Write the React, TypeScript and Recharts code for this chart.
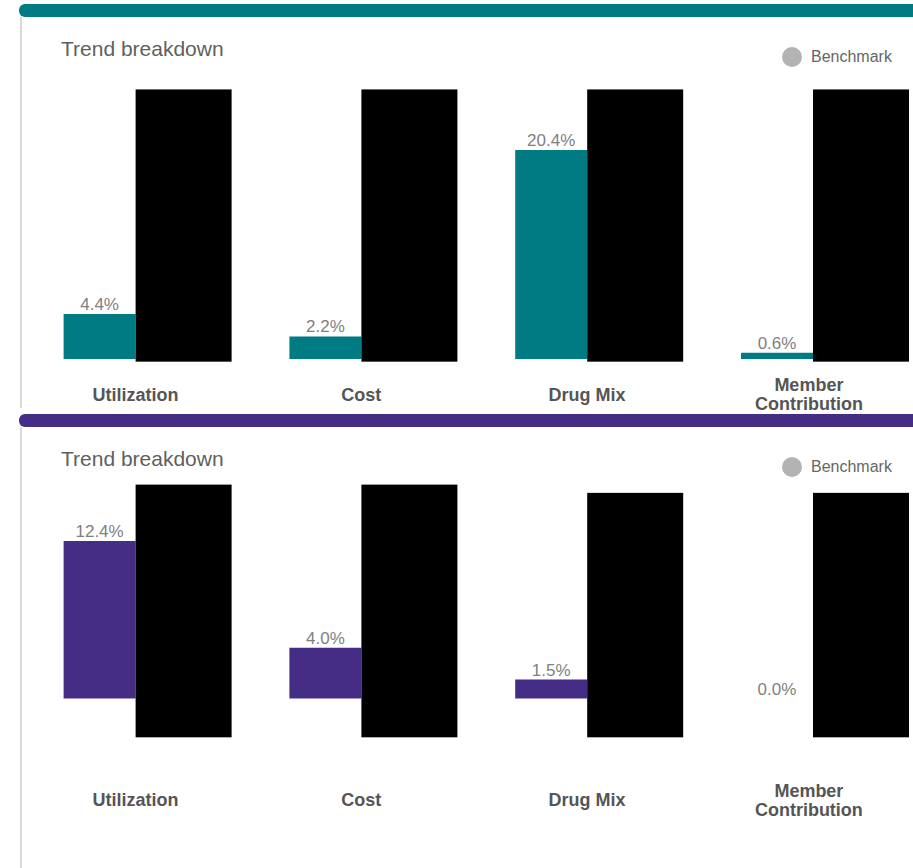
import React from "react";
import { BarChart, Bar, XAxis, YAxis, LabelList } from "recharts";

const categories = ["Utilization", "Cost", "Drug Mix", "Member Contribution"];
const trendTop = [4.4, 2.2, 20.4, 0.6];
const trendBottom = [12.4, 4.0, 1.5, 0.0];
// benchmark bars are blacked out in the source, values are the black blocks [low, high]
const benchTop: [number, number][] = [[-0.26, 26.3], [-0.26, 26.3], [-0.26, 26.3], [-0.26, 26.3]];
const benchBottom: [number, number][] = [[-3.05, 16.85], [-3.05, 16.85], [-3.05, 16.2], [-3.05, 16.2]];

const FONT = '"Liberation Sans", Arial, sans-serif';

function CatTick({ x, y, payload, dy1, dy2 }: any) {
    const lines = payload.value === "Member Contribution" ? String(payload.value).split(" ") : [payload.value];
    return (
        <g>
            {lines.length === 1 ? (
                <text x={x} y={y + dy1} textAnchor="middle" fontSize={18} fontWeight="bold" fill="#555" fontFamily={FONT}>
                    {lines[0]}
                </text>
            ) : (
                lines.map((l: string, i: number) => (
                    <text key={i} x={x - 4} y={y + dy2 + i * 19} textAnchor="middle" fontSize={18} fontWeight="bold" fill="#555" fontFamily={FONT}>
                        {l}
                    </text>
                ))
            )}
        </g>
    );
}

function BlackBlock(p: any) {
    const h = Math.abs(p.height);
    const y = p.height < 0 ? p.y + p.height : p.y;
    return <rect x={p.x} y={y} width={(p.width * 4) / 3} height={h} fill="#000" />;
}

interface PanelProps {
    top: number;
    lineH: number;
    color: string;
    trend: number[];
    bench: [number, number][];
    domain: [number, number];
    chartTop: number;
    plotH: number;
    dy1: number;
    dy2: number;
}

function Panel({ top, lineH, color, trend, bench, domain, chartTop, plotH, dy1, dy2 }: PanelProps) {
    const data = categories.map((name, i) => ({ name, trend: trend[i], bench: bench[i] }));
    const mTop = 10;
    const axisH = 80;
    return (
        <>
            <div style={{ position: "absolute", left: 20, top: top + 13, width: 2, height: lineH, background: "#d9d9d9" }} />
            <div style={{ position: "absolute", left: 19, top, width: 900, height: 13, background: color, borderRadius: "6px 0 0 6px" }} />
            <div style={{ position: "absolute", left: 61, top: top + 33, fontFamily: FONT, fontSize: 21, color: "#5f5f5f", lineHeight: "24px" }}>
                Trend breakdown
            </div>
            <div style={{ position: "absolute", left: 782, top: top + 43, width: 20, height: 20, borderRadius: 10, background: "#b3b3b3" }} />
            <div style={{ position: "absolute", left: 811, top: top + 43, fontFamily: FONT, fontSize: 16, color: "#666", lineHeight: "20px" }}>
                Benchmark
            </div>
            <div style={{ position: "absolute", left: 0, top: chartTop - mTop }}>
                <BarChart
                    width={960}
                    height={mTop + plotH + axisH}
                    data={data}
                    margin={{ top: mTop, right: 960 - 22.6 - 903.2, left: 22.6, bottom: 0 }}
                    barGap={0}
                >
                    <XAxis
                        dataKey="name"
                        axisLine={false}
                        tickLine={false}
                        tickSize={0}
                        tickMargin={0}
                        interval={0}
                        height={axisH}
                        tick={(props: any) => <CatTick {...props} dy1={dy1} dy2={dy2} />}
                    />
                    <YAxis hide domain={domain} allowDataOverflow />
                    <Bar
                        dataKey="trend"
                        fill={color}
                        barSize={72}
                        minPointSize={(v: number) => (v === 0 ? 0.01 : 0)}
                        isAnimationActive={false}
                    >
                        <LabelList
                            dataKey="trend"
                            position="top"
                            offset={4}
                            formatter={(v: any) => `${Number(v).toFixed(1)}%`}
                            style={{ fill: "#808080", fontSize: 17, fontFamily: FONT }}
                        />
                    </Bar>
                    <Bar dataKey="bench" fill="#000" barSize={72} shape={BlackBlock} isAnimationActive={false} />
                </BarChart>
            </div>
        </>
    );
}

export default function App() {
    return (
        <div style={{ position: "absolute", left: 0, top: 0, width: 913, height: 868, overflow: "hidden", background: "#fff" }}>
            <Panel
                top={4}
                lineH={391}
                color="#007B83"
                trend={trendTop}
                bench={benchTop}
                domain={[-2, 28]}
                chartTop={72}
                plotH={307.5}
                dy1={21.5}
                dy2={11.5}
            />
            <Panel
                top={414}
                lineH={460}
                color="#452C84"
                trend={trendBottom}
                bench={benchBottom}
                domain={[-4, 18]}
                chartTop={470.4}
                plotH={279.4}
                dy1={56.7}
                dy2={47.2}
            />
        </div>
    );
}
